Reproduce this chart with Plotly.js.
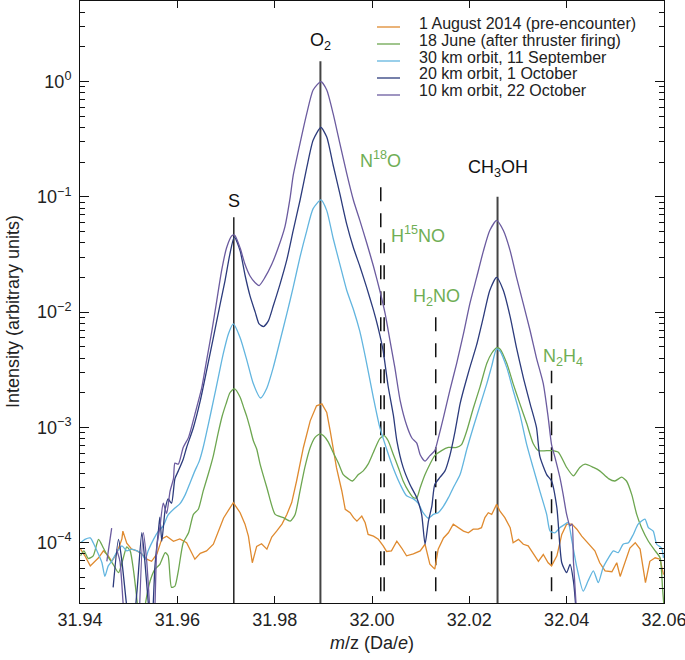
<!DOCTYPE html>
<html><head><meta charset="utf-8">
<script src="https://cdn.plot.ly/plotly-3.0.1.min.js"></script>
<style>html,body{margin:0;padding:0;background:#fff}#chart{width:685px;height:660px}</style>
</head><body><div id="chart"></div>
<script>
// ---------- DATA ----------
const seriesNames = ['1 August 2014 (pre-encounter)','18 June (after thruster firing)','30 km orbit, 11 September','20 km orbit, 1 October','10 km orbit, 22 October'];

const aug = [[31.9401,8.8e-5],[31.9410,7.7e-5],[31.9421,6.3e-5],[31.9427,6.7e-5],[31.9438,7.4e-5],[31.9448,8.5e-5],[31.9458,7.7e-5],[31.9465,6.9e-5],[31.9475,8.0e-5],[31.9486,1.08e-4],[31.9488,1.26e-4],[31.9496,9.9e-5],[31.9506,8.8e-5],[31.9517,8.5e-5],[31.9527,8.0e-5],[31.9537,7.2e-5],[31.9547,6.9e-5],[31.9558,8.0e-5],[31.9568,1.08e-4],[31.9578,1.14e-4],[31.9592,1.03e-4],[31.9605,1.08e-4],[31.9619,1.0e-4],[31.9636,7.2e-5],[31.9647,8.1e-5],[31.9660,8.5e-5],[31.9674,9.7e-5],[31.9695,1.64e-4],[31.9715,2.23e-4],[31.9729,1.82e-4],[31.9739,1.45e-4],[31.9746,1.14e-4],[31.9754,6.7e-5],[31.9763,9.3e-5],[31.9773,9.8e-5],[31.9784,8.8e-5],[31.9794,1.12e-4],[31.9804,1.26e-4],[31.9815,1.45e-4],[31.9825,1.76e-4],[31.9835,2.23e-4],[31.9845,3.43e-4],[31.9859,6.7e-4],[31.9873,1.14e-3],[31.9886,1.54e-3],[31.9897,1.60e-3],[31.9907,1.35e-3],[31.9914,9.4e-4],[31.9920,6.7e-4],[31.9927,4.48e-4],[31.9938,2.81e-4],[31.9945,1.95e-4],[31.9955,1.82e-4],[31.9962,1.65e-4],[31.9969,1.54e-4],[31.9979,1.70e-4],[31.9986,1.49e-4],[31.9992,1.18e-4],[32.0003,1.14e-4],[32.0013,1.07e-4],[32.0023,9.4e-5],[32.0030,8.4e-5],[32.0040,8.5e-5],[32.0051,1.03e-4],[32.0061,9.0e-5],[32.0071,7.7e-5],[32.0085,8.0e-5],[32.0099,8.5e-5],[32.0109,9.7e-5],[32.0119,6.5e-5],[32.0129,5.9e-5],[32.0136,8.8e-5],[32.0147,1.10e-4],[32.0157,1.22e-4],[32.0167,1.45e-4],[32.0177,1.35e-4],[32.0188,1.26e-4],[32.0198,1.22e-4],[32.0208,1.31e-4],[32.0218,1.31e-4],[32.0225,1.35e-4],[32.0232,1.65e-4],[32.0239,1.82e-4],[32.0246,1.76e-4],[32.0256,2.15e-4],[32.0263,1.88e-4],[32.0273,1.65e-4],[32.0284,1.35e-4],[32.0290,1.0e-4],[32.0301,1.07e-4],[32.0311,9.7e-5],[32.0321,9.4e-5],[32.0331,8.2e-5],[32.0342,6.9e-5],[32.0352,7.9e-5],[32.0362,6.7e-5],[32.0369,6.3e-5],[32.0380,7.7e-5],[32.0390,1.18e-4],[32.0400,1.45e-4],[32.0411,1.45e-4],[32.0421,1.31e-4],[32.0431,1.14e-4],[32.0444,1.0e-4],[32.0458,8.5e-5],[32.0468,6.7e-5],[32.0479,5.7e-5],[32.0493,5.6e-5],[32.0503,6.7e-5],[32.0510,5.1e-5],[32.0520,6.7e-5],[32.0530,9.0e-5],[32.0541,1.0e-4],[32.0551,8.8e-5],[32.0562,4.5e-5],[32.0571,6.9e-5],[32.0582,7.4e-5],[32.0592,7.2e-5],[32.0599,5.3e-5]];

const june = [[31.9401,7.7e-5],[31.9408,8.5e-5],[31.9417,7.3e-5],[31.9427,7.7e-5],[31.9438,1.07e-4],[31.9448,9.0e-5],[31.9458,7.5e-5],[31.9468,6.5e-5],[31.9479,5.5e-5],[31.9489,7.4e-5],[31.9496,9.2e-5],[31.9503,8.5e-5],[31.9510,5.7e-5],[31.9518,2.9e-5],[31.9525,1.5e-5],[31.9534,2.9e-5],[31.9544,4.65e-5],[31.9554,5.9e-5],[31.9564,6.5e-5],[31.9575,8.2e-5],[31.9581,7.7e-5],[31.9588,4.1e-5],[31.9595,4.2e-5],[31.9602,5.7e-5],[31.9612,1.0e-4],[31.9623,1.22e-4],[31.9633,1.76e-4],[31.9643,1.95e-4],[31.9653,2.8e-4],[31.9664,4.0e-4],[31.9674,5.7e-4],[31.9684,9.0e-4],[31.9692,1.25e-3],[31.9700,1.6e-3],[31.9708,2.0e-3],[31.9717,2.17e-3],[31.9729,1.83e-3],[31.9736,1.5e-3],[31.9743,1.23e-3],[31.9749,1.0e-3],[31.9756,7.7e-4],[31.9763,6.5e-4],[31.9770,4.8e-4],[31.9784,3.0e-4],[31.9801,1.76e-4],[31.9818,1.65e-4],[31.9832,1.54e-4],[31.9842,1.76e-4],[31.9852,2.8e-4],[31.9862,4.5e-4],[31.9873,6.7e-4],[31.9883,8.2e-4],[31.9893,8.8e-4],[31.9900,8.5e-4],[31.9910,7.5e-4],[31.9920,6.1e-4],[31.9931,4.9e-4],[31.9941,3.9e-4],[31.9951,3.6e-4],[31.9960,3.43e-4],[31.9972,3.9e-4],[31.9982,4.2e-4],[31.9992,4.8e-4],[32.0003,6.1e-4],[32.0016,8.0e-4],[32.0025,8.5e-4],[32.0033,7.7e-4],[32.0044,5.8e-4],[32.0054,4.5e-4],[32.0064,3.43e-4],[32.0075,2.8e-4],[32.0085,2.46e-4],[32.0092,2.45e-4],[32.0099,3.0e-4],[32.0109,3.9e-4],[32.0119,4.8e-4],[32.0129,5.7e-4],[32.0143,6.3e-4],[32.0157,6.7e-4],[32.0174,6.7e-4],[32.0184,7.1e-4],[32.0195,9.4e-4],[32.0208,1.46e-3],[32.0222,2.25e-3],[32.0236,3.6e-3],[32.0246,4.4e-3],[32.0256,4.9e-3],[32.0263,4.8e-3],[32.0277,3.6e-3],[32.0290,2.4e-3],[32.0304,1.6e-3],[32.0318,1.08e-3],[32.0331,7.3e-4],[32.0342,6.3e-4],[32.0369,6.3e-4],[32.0383,6.1e-4],[32.0400,4.5e-4],[32.0414,3.8e-4],[32.0427,4.5e-4],[32.0438,4.8e-4],[32.0455,4.5e-4],[32.0468,4.2e-4],[32.0486,3.6e-4],[32.0499,3.43e-4],[32.0513,3.7e-4],[32.0523,3.43e-4],[32.0534,2.6e-4],[32.0544,1.76e-4],[32.0554,1.35e-4],[32.0568,1.03e-4],[32.0582,8.5e-5],[32.0592,7.4e-5],[32.0597,4.1e-5],[32.0600,2.8e-5]];

const sept = [[31.9401,1.0e-4],[31.9410,1.07e-4],[31.9421,1.1e-4],[31.9427,1.0e-4],[31.9438,7.9e-5],[31.9445,6.7e-5],[31.9451,5.1e-5],[31.9458,6.3e-5],[31.9465,6.9e-5],[31.9475,8.2e-5],[31.9486,9.4e-5],[31.9496,8.5e-5],[31.9506,8.8e-5],[31.9517,8.5e-5],[31.9527,8.0e-5],[31.9534,7.2e-5],[31.9540,8.5e-5],[31.9551,1.07e-4],[31.9561,1.26e-4],[31.9571,1.4e-4],[31.9581,1.74e-4],[31.9595,2.0e-4],[31.9605,2.17e-4],[31.9616,2.6e-4],[31.9626,3.3e-4],[31.9636,4.2e-4],[31.9645,5.1e-4],[31.9653,6.7e-4],[31.9664,1.08e-3],[31.9674,1.7e-3],[31.9684,2.7e-3],[31.9694,4.3e-3],[31.9705,6.5e-3],[31.9715,7.9e-3],[31.9729,6.0e-3],[31.9743,3.8e-3],[31.9756,2.4e-3],[31.9771,1.8e-3],[31.9784,2.2e-3],[31.9797,3.3e-3],[31.9811,5.65e-3],[31.9825,9.7e-3],[31.9838,1.64e-2],[31.9852,3.0e-2],[31.9866,5.1e-2],[31.9879,7.9e-2],[31.9895,9.4e-2],[31.9907,7.6e-2],[31.9920,4.4e-2],[31.9934,2.6e-2],[31.9948,1.55e-2],[31.9962,1.05e-2],[31.9975,6.8e-3],[31.9989,3.6e-3],[32.0003,1.8e-3],[32.0016,1.0e-3],[32.0030,6.5e-4],[32.0044,4.4e-4],[32.0058,3.2e-4],[32.0071,2.55e-4],[32.0085,2.4e-4],[32.0095,2.2e-4],[32.0105,1.82e-4],[32.0116,1.63e-4],[32.0126,1.76e-4],[32.0136,1.82e-4],[32.0147,2.08e-4],[32.0157,2.46e-4],[32.0167,3.0e-4],[32.0181,3.9e-4],[32.0195,6.5e-4],[32.0208,1.0e-3],[32.0222,1.55e-3],[32.0236,2.4e-3],[32.0246,3.4e-3],[32.0256,4.8e-3],[32.0263,4.6e-3],[32.0277,3.3e-3],[32.0290,2.1e-3],[32.0304,1.3e-3],[32.0318,7.1e-4],[32.0331,4.5e-4],[32.0345,2.8e-4],[32.0359,1.76e-4],[32.0366,1.26e-4],[32.0376,1.22e-4],[32.0386,1.35e-4],[32.0397,1.45e-4],[32.0403,1.5e-4],[32.0411,1.03e-4],[32.0421,6.1e-5],[32.0434,3.8e-5],[32.0444,4.65e-5],[32.0455,5.7e-5],[32.0465,4.5e-5],[32.0475,6.1e-5],[32.0486,7.4e-5],[32.0496,8.5e-5],[32.0506,8.2e-5],[32.0516,9.7e-5],[32.0527,1.0e-4],[32.0537,1.18e-4],[32.0547,1.45e-4],[32.0561,1.6e-4],[32.0568,1.35e-4],[32.0578,1.26e-4],[32.0585,9.7e-5],[32.0595,9.0e-5],[32.0599,7.4e-5]];

const oct1 = [[31.9468,4.1e-5],[31.9479,1.07e-4],[31.9486,6.9e-5],[31.9496,2.8e-5],[31.9506,1.4e-5],[31.9517,3.8e-5],[31.9527,1.22e-4],[31.9534,6.3e-5],[31.9540,3.1e-5],[31.9547,1.7e-5],[31.9554,6.3e-5],[31.9561,1.26e-4],[31.9564,1.67e-4],[31.9568,1.03e-4],[31.9575,1.95e-4],[31.9581,2.4e-4],[31.9588,2.2e-4],[31.9595,3.6e-4],[31.9602,4.2e-4],[31.9612,5.3e-4],[31.9619,6.7e-4],[31.9633,1.0e-3],[31.9647,1.7e-3],[31.9660,3.1e-3],[31.9674,6.0e-3],[31.9688,1.18e-2],[31.9698,1.88e-2],[31.9708,3.2e-2],[31.9717,4.5e-2],[31.9729,3.4e-2],[31.9739,2.1e-2],[31.9749,1.4e-2],[31.9760,1.0e-2],[31.9768,7.9e-3],[31.9777,7.5e-3],[31.9787,8.4e-3],[31.9797,1.13e-2],[31.9811,1.75e-2],[31.9825,2.85e-2],[31.9838,5.1e-2],[31.9852,9.3e-2],[31.9866,0.18],[31.9879,0.31],[31.9895,0.40],[31.9907,0.33],[31.9920,0.19],[31.9934,0.106],[31.9948,5.8e-2],[31.9962,3.6e-2],[31.9975,2.5e-2],[31.9989,1.64e-2],[32.0003,1.04e-2],[32.0013,7.2e-3],[32.0023,4.6e-3],[32.0033,2.3e-3],[32.0044,1.27e-3],[32.0051,7.7e-4],[32.0064,4.5e-4],[32.0078,3.2e-4],[32.0092,2.46e-4],[32.0102,1.76e-4],[32.0109,9.7e-5],[32.0116,1.54e-4],[32.0123,2.08e-4],[32.0129,3.2e-4],[32.0140,3.7e-4],[32.0150,4.2e-4],[32.0160,5.7e-4],[32.0171,9.4e-4],[32.0181,1.6e-3],[32.0188,2.1e-3],[32.0201,3.3e-3],[32.0215,5.2e-3],[32.0229,9.1e-3],[32.0242,1.54e-2],[32.0256,2.0e-2],[32.0270,1.54e-2],[32.0284,9.1e-3],[32.0297,4.9e-3],[32.0311,2.7e-3],[32.0325,1.6e-3],[32.0338,1.0e-3],[32.0345,5.6e-4],[32.0359,3.9e-4],[32.0369,3.43e-4],[32.0380,2.0e-4],[32.0390,6.7e-5],[32.0400,5.5e-5],[32.0407,6.5e-5],[32.0414,4.65e-5],[32.0419,2.7e-5],[32.0423,1.4e-5]];

const oct22 = [[31.9455,6.9e-5],[31.9465,1.34e-4],[31.9468,null],[31.9475,8.8e-5],[31.9482,6.9e-5],[31.9489,2.8e-5],[31.9496,1.4e-5],[31.9503,null],[31.9520,1.4e-5],[31.9530,1.22e-4],[31.9537,6.9e-5],[31.9544,2.5e-5],[31.9551,1.4e-5],[31.9558,9.4e-5],[31.9564,1.35e-4],[31.9571,2.2e-4],[31.9578,1.8e-4],[31.9585,2.8e-4],[31.9592,3.6e-4],[31.9595,4.9e-4],[31.9602,4.8e-4],[31.9612,6.7e-4],[31.9623,8.2e-4],[31.9636,1.3e-3],[31.9650,2.2e-3],[31.9660,3.8e-3],[31.9671,6.9e-3],[31.9681,1.26e-2],[31.9691,2.3e-2],[31.9701,3.6e-2],[31.9712,4.6e-2],[31.9718,4.65e-2],[31.9729,3.6e-2],[31.9739,2.6e-2],[31.9749,2.07e-2],[31.9760,1.8e-2],[31.9768,1.7e-2],[31.9780,2.0e-2],[31.9794,2.6e-2],[31.9807,3.6e-2],[31.9821,5.5e-2],[31.9832,0.1],[31.9838,0.153],[31.9852,0.29],[31.9866,0.53],[31.9879,0.845],[31.9895,1.0],[31.9907,0.845],[31.9920,0.53],[31.9934,0.29],[31.9948,0.16],[31.9962,0.093],[31.9975,6.25e-2],[31.9989,4.0e-2],[32.0003,2.5e-2],[32.0016,1.54e-2],[32.0027,9.7e-3],[32.0037,5.66e-3],[32.0047,3.3e-3],[32.0058,1.7e-3],[32.0071,1.05e-3],[32.0082,8.1e-4],[32.0092,7.3e-4],[32.0099,5.8e-4],[32.0109,5.1e-4],[32.0119,5.7e-4],[32.0129,6.3e-4],[32.0136,8.0e-4],[32.0147,1.23e-3],[32.0160,2.1e-3],[32.0174,3.6e-3],[32.0188,6.5e-3],[32.0201,1.18e-2],[32.0215,2.0e-2],[32.0229,3.4e-2],[32.0242,5.1e-2],[32.0256,6.25e-2],[32.0270,5.1e-2],[32.0284,3.4e-2],[32.0297,2.0e-2],[32.0311,1.18e-2],[32.0325,6.9e-3],[32.0338,4.0e-3],[32.0352,2.4e-3],[32.0362,1.23e-3],[32.0369,7.1e-4],[32.0376,5.5e-4],[32.0386,3.7e-4],[32.0393,2.6e-4],[32.0400,1.76e-4],[32.0407,1.4e-4],[32.0411,1.45e-4],[32.0414,6.9e-5],[32.0419,3.1e-5],[32.0423,1.4e-5]];

// Reference mass lines
const lineNames = ['S','O<sub>2</sub>','N<sup>18</sup>O','H<sup>15</sup>NO','H<sub>2</sub>NO','CH<sub>3</sub>OH','N<sub>2</sub>H<sub>4</sub>'];
const lineMz = [31.9716, 31.9894, 32.0018, 32.0025, 32.0131, 32.0258, 32.0369];
const lineTop = [0.0667, 1.5, 0.154, 0.040, 0.0100, 0.1, 0.0031];

// Axis ticks
const xTicks = [31.94, 31.96, 31.98, 32.00, 32.02, 32.04, 32.06];
const yTicks = [1e-4, 1e-3, 1e-2, 1e-1, 1];
const yTickText = ['10<sup>−4</sup>','10<sup>−3</sup>','10<sup>−2</sup>','10<sup>−1</sup>','10<sup>0</sup>'];

// ---------- STYLE ----------
const seriesData = [aug, june, sept, oct1, oct22];
const seriesColors = ['#df8a2f','#6da650','#62b5df','#2c3b7c','#6b5b9f'];
const seriesShape = ['linear','spline','spline','spline','spline'];
const lineStyle = [
  {color:'#111', width:1.4, dash:'solid', label:'#111', dx:0, dy:16},
  {color:'#444', width:2, dash:'solid', label:'#111', dx:0, dy:20},
  {color:'#111', width:1.5, dash:'14px,12px', label:'#6fae55', dx:0, dy:16},
  {color:'#111', width:1.5, dash:'14px,12px', label:'#6fae55', dx:34, dy:8},
  {color:'#111', width:1.5, dash:'14px,12px', label:'#6fae55', dx:1, dy:15},
  {color:'#444', width:2, dash:'solid', label:'#111', dx:0, dy:28},
  {color:'#111', width:1.5, dash:'14px,12px', label:'#6fae55', dx:11, dy:13}
];
const FONT = 'Liberation Sans, Arial, Helvetica, sans-serif';
const L = 80, R = 21, T = 1, B = 57, W = 685, H = 660;
const pw = W - L - R, ph = H - T - B;
const xp = px => (px - L) / pw;
const yp = py => (H - B - py) / ph;

const traces = [];
lineMz.forEach((m, i) => {
  const s = lineStyle[i];
  traces.push({x:[m, m], y:[1e-6, lineTop[i]], mode:'lines', showlegend:false, hoverinfo:'skip',
    line:{color:s.color, width:s.width, dash:s.dash}});
});
seriesData.forEach((d, i) => {
  traces.push({x:d.map(p => p[0]), y:d.map(p => p[1]), mode:'lines', name:seriesNames[i],
    line:{color:seriesColors[i], width:1.3, shape:seriesShape[i], smoothing:0.6}, connectgaps:false});
});

const minorVals = [];
for (let e = -5; e <= 0; e++) for (let k = 2; k <= 9; k++) minorVals.push(k * Math.pow(10, e));

const annotations = lineNames.map((t, i) => ({
  x: lineMz[i], y: Math.log10(lineTop[i]), xref:'x', yref:'y', text:t, showarrow:false,
  xanchor:'center', yanchor:'middle', xshift:lineStyle[i].dx, yshift:lineStyle[i].dy,
  font:{family:FONT, size:18, color:lineStyle[i].label}
}));
annotations.push({xref:'paper', yref:'paper', x:xp(13), y:yp(312), text:'Intensity (arbitrary units)',
  textangle:-90, showarrow:false, xanchor:'center', yanchor:'middle', font:{family:FONT, size:18, color:'#222'}});
annotations.push({xref:'paper', yref:'paper', x:xp(372), y:yp(643), text:'<i>m</i>/z (Da/<i>e</i>)',
  showarrow:false, xanchor:'center', yanchor:'middle', font:{family:FONT, size:18, color:'#222'}});

const shapes = [];
const legRows = [23, 40, 57, 74, 91];
seriesNames.forEach((n, i) => {
  annotations.push({xref:'paper', yref:'paper', x:xp(417), y:yp(legRows[i]), text:n, showarrow:false,
    xanchor:'left', yanchor:'middle', font:{family:FONT, size:16, color:'#222'}});
  shapes.push({type:'line', xref:'paper', yref:'paper', x0:xp(377), x1:xp(400),
    y0:yp(legRows[i] + 4), y1:yp(legRows[i] + 4), line:{color:seriesColors[i], width:1.3}});
});

const layout = {
  width:W, height:H, margin:{l:L, r:R, t:T, b:B, pad:0},
  paper_bgcolor:'#fff', plot_bgcolor:'#fff', showlegend:false,
  font:{family:FONT, size:18, color:'#222'},
  xaxis:{range:[31.93999, 32.06001], tickmode:'array', tickvals:xTicks, ticktext:xTicks.map(v => v.toFixed(2)),
    ticks:'inside', ticklen:7, tickwidth:1, tickcolor:'#111', showline:true, linecolor:'#111', linewidth:1,
    mirror:'ticks', showgrid:false, zeroline:false, ticklabeloverflow:'allow',
    tickfont:{family:FONT, size:18, color:'#222'}},
  yaxis:{type:'log', range:[Math.log10(3e-5), Math.log10(5)], tickmode:'array', tickvals:yTicks, ticktext:yTickText,
    ticks:'inside', ticklen:9, tickwidth:1, tickcolor:'#111', showline:true, linecolor:'#111', linewidth:1,
    mirror:'ticks', showgrid:false, zeroline:false, ticklabelstandoff:4,
    tickfont:{family:FONT, size:18, color:'#222'},
    minor:{tickmode:'array', tickvals:minorVals, ticks:'inside', ticklen:5, tickwidth:1, tickcolor:'#111', showgrid:false}},
  annotations:annotations, shapes:shapes
};
Plotly.newPlot('chart', traces, layout, {staticPlot:true, displayModeBar:false});
</script></body></html>
